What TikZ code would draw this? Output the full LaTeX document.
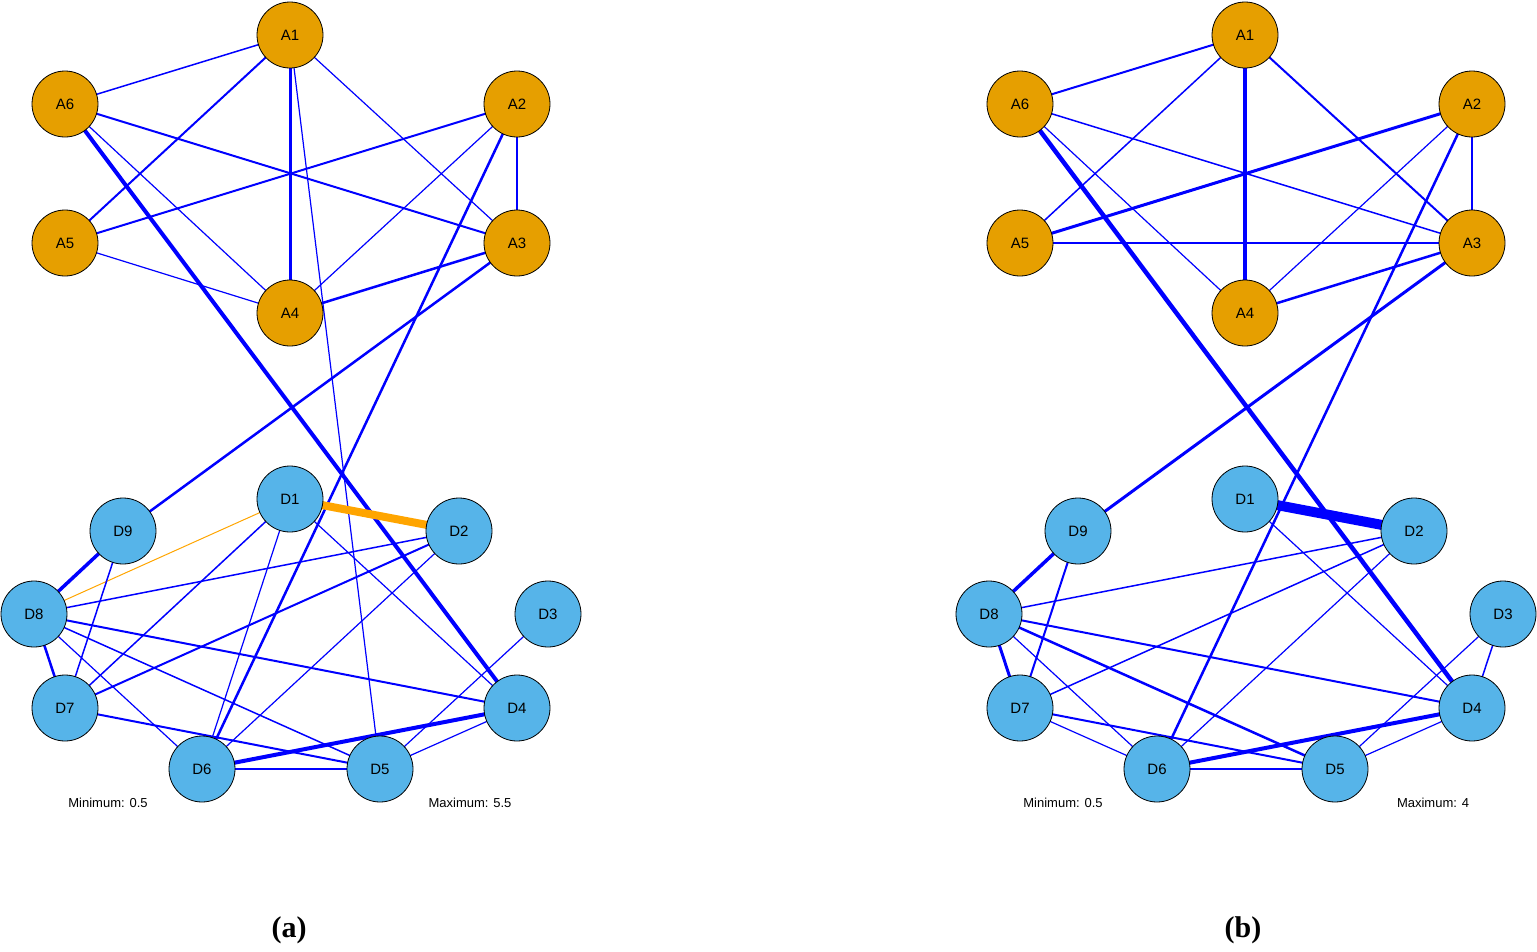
\documentclass[tikz,border=0pt]{standalone}
\usepackage{fontspec}
\setmainfont{Liberation Sans}
\newfontfamily\capfont{Liberation Serif}
\definecolor{aor}{HTML}{E69F00}
\definecolor{dbl}{HTML}{56B4E9}
\definecolor{eb}{HTML}{0000FF}
\definecolor{eo}{HTML}{FFA500}
\begin{document}
\begin{tikzpicture}[x=1pt,y=-1pt,
 nd/.style={circle,draw=black,line width=0.8pt,minimum size=66pt,inner sep=0pt,font=\fontsize{15}{15}\selectfont},
 an/.style={nd,fill=aor}, dn/.style={nd,fill=dbl},
 e/.style={draw=eb,line width=#1pt}, e/.default=1.2,
 o/.style={draw=eo,line width=#1pt},
 lab/.style={font=\fontsize{13}{13}\selectfont},
 captxt/.style={font=\capfont\bfseries\fontsize{30}{30}\selectfont}]
\useasboundingbox (0,0) rectangle (1537,951);
\foreach \p/\ox in {a/0,b/955}{
 \begin{scope}[xshift=\ox pt]
 \coordinate (\p A1) at (290,35); \coordinate (\p A6) at (65,104);
 \coordinate (\p A2) at (517,104); \coordinate (\p A5) at (65,243);
 \coordinate (\p A3) at (517,243); \coordinate (\p A4) at (290,313);
 \coordinate (\p D1) at (290,499); \coordinate (\p D9) at (123,531);
 \coordinate (\p D2) at (459,531); \coordinate (\p D3) at (548,614);
 \coordinate (\p D8) at (34,614); \coordinate (\p D7) at (65,708);
 \coordinate (\p D4) at (517,708); \coordinate (\p D6) at (202,769);
 \coordinate (\p D5) at (380,769);
 \end{scope}}
% edges (a)
\draw[e=1.5] (aA1)--(aA6); \draw[e=2] (aA1)--(aA5); \draw[e=3] (aA1)--(aA4);
\draw[e] (aA1)--(aA3); \draw[e] (aA1)--(aD5);
\draw[e=2] (aA6)--(aA3); \draw[e] (aA6)--(aA4); \draw[e=4] (aA6)--(aD4);
\draw[e=2] (aA2)--(aA5); \draw[e] (aA2)--(aA4); \draw[e=2.5] (aA2)--(aA3); \draw[e=2.5] (aA2)--(aD6);
\draw[e] (aA5)--(aA4); \draw[e=2.5] (aA4)--(aA3); \draw[e=2.5] (aA3)--(aD9);
\draw[o=8] (aD1)--(aD2); \draw[o=1] (aD1)--(aD8);
\draw[e=1.5] (aD1)--(aD7); \draw[e] (aD1)--(aD6); \draw[e] (aD1)--(aD4);
\draw[e=1.5] (aD2)--(aD8); \draw[e=2] (aD2)--(aD7); \draw[e] (aD2)--(aD6);
\draw[e] (aD3)--(aD5);
\draw[e=3.5] (aD9)--(aD8); \draw[e=1.5] (aD9)--(aD7);
\draw[e=2.5] (aD8)--(aD7); \draw[e=2] (aD8)--(aD4); \draw[e=1.5] (aD8)--(aD5); \draw[e] (aD8)--(aD6);
\draw[e=2] (aD7)--(aD5); \draw[e=4] (aD4)--(aD6); \draw[e] (aD4)--(aD5); \draw[e] (aD6)--(aD5);
% edges (b)
\draw[e=2] (bA1)--(bA6); \draw[e=1.5] (bA1)--(bA5); \draw[e=3.5] (bA1)--(bA4); \draw[e=2] (bA1)--(bA3);
\draw[e=1.5] (bA6)--(bA3); \draw[e] (bA6)--(bA4); \draw[e=4.5] (bA6)--(bD4);
\draw[e=3] (bA2)--(bA5); \draw[e] (bA2)--(bA4); \draw[e=2] (bA2)--(bA3); \draw[e=2.5] (bA2)--(bD6);
\draw[e] (bA5)--(bA3); \draw[e=2.5] (bA4)--(bA3); \draw[e=3] (bA3)--(bD9);
\draw[e=10] (bD1)--(bD2); \draw[e] (bD1)--(bD4);
\draw[e=1.5] (bD2)--(bD8); \draw[e=1.5] (bD2)--(bD7); \draw[e] (bD2)--(bD6);
\draw[e] (bD3)--(bD5); \draw[e=1.5] (bD3)--(bD4);
\draw[e=3.5] (bD9)--(bD8); \draw[e=2] (bD9)--(bD7);
\draw[e=3] (bD8)--(bD7); \draw[e=2] (bD8)--(bD4); \draw[e=2.5] (bD8)--(bD5); \draw[e] (bD8)--(bD6);
\draw[e=2] (bD7)--(bD5); \draw[e] (bD7)--(bD6);
\draw[e=4] (bD4)--(bD6); \draw[e] (bD4)--(bD5); \draw[e] (bD6)--(bD5);
% nodes
\foreach \p in {a,b}{
 \foreach \n in {A1,A2,A3,A4,A5,A6}{\node[an] (n\p\n) at (\p\n) {\n};}
 \foreach \n in {D1,D2,D3,D4,D5,D6,D7,D8,D9}{\node[dn] (n\p\n) at (\p\n) {\n};}
}
\node[lab] (mina) at (108,803) {Minimum: 0.5};
\node[lab] (maxa) at (470,803) {Maximum: 5.5};
\node[lab] (minb) at (1063,803) {Minimum: 0.5};
\node[lab] (maxb) at (1433,803) {Maximum: 4};
\node[captxt] (capa) at (289,930) {(a)};
\node[captxt] (capb) at (1243,930) {(b)};
\end{tikzpicture}
\end{document}
